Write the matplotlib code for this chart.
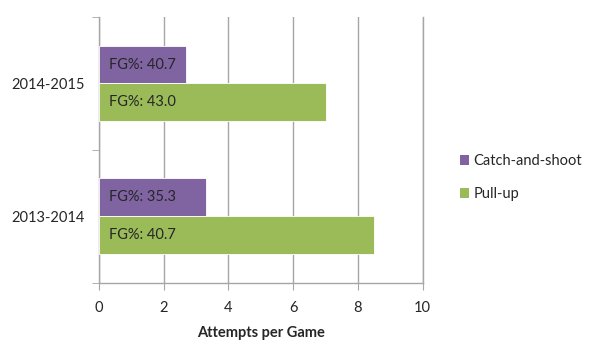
import numpy as np
import matplotlib.pyplot as plt
from matplotlib.patches import Patch

# -----------------------------
# Data
# -----------------------------
seasons = ["2013-2014", "2014-2015"]
catch_shoot = [3.3, 2.7]
pull_up = [8.5, 7.0]
catch_fg = ["35.3", "40.7"]
pull_fg = ["40.7", "43.0"]

purple = "#8064A2"
green = "#9BBB59"
grid_col = "#A6A6A6"
txt = "#262626"

plt.rcParams["font.family"] = ["Lato", "DejaVu Sans"]

# -----------------------------
# Plot
# -----------------------------
fig = plt.figure(figsize=(6.0, 3.59), dpi=100)
ax = fig.add_axes([0.165, 0.2125, 0.5395, 0.7401])

y = np.arange(len(seasons))
h = 0.285
ax.barh(y + h / 2, catch_shoot, height=h, color=purple, edgecolor="white", linewidth=0.6, zorder=3)
ax.barh(y - h / 2, pull_up, height=h, color=green, edgecolor="white", linewidth=0.6, zorder=3)

# FG% labels inside the bars
for i in range(len(seasons)):
    ax.text(0.3, y[i] + h / 2, "FG%: " + catch_fg[i], va="center", ha="left",
            fontsize=10.5, color=txt, zorder=4)
    ax.text(0.3, y[i] - h / 2, "FG%: " + pull_fg[i], va="center", ha="left",
            fontsize=10.5, color=txt, zorder=4)

ax.set_xlim(0, 10)
ax.set_ylim(-0.5, 1.5)
ax.set_xticks(range(0, 11, 2))
ax.set_yticks(y)
ax.set_yticklabels(seasons)
ax.set_yticks([-0.5, 0.5, 1.5], minor=True)
ax.tick_params(axis="y", which="major", length=0, pad=10, labelsize=10.5, labelcolor=txt)
ax.tick_params(axis="y", which="minor", length=5, color=grid_col, direction="out")
ax.tick_params(axis="x", length=5, color=grid_col, direction="out", pad=8,
               labelsize=10.5, labelcolor=txt)

ax.xaxis.grid(True, color=grid_col, linewidth=1.0, zorder=0)
ax.set_axisbelow(True)
ax.spines["top"].set_visible(False)
for s in ["left", "bottom", "right"]:
    ax.spines[s].set_color(grid_col)
    ax.spines[s].set_linewidth(1.0)

ax.set_xlabel("Attempts per Game", fontsize=10.5, fontweight="bold", color=txt, labelpad=8)

handles = [Patch(facecolor=purple, label="Catch-and-shoot"),
           Patch(facecolor=green, label="Pull-up")]
fig.legend(handles=handles, loc="center left", bbox_to_anchor=(0.745, 0.505),
           frameon=False, fontsize=10.5, handlelength=0.6, handleheight=0.6,
           handletextpad=0.3, labelspacing=1.3, labelcolor=txt)

plt.savefig("out.png", dpi=100)
